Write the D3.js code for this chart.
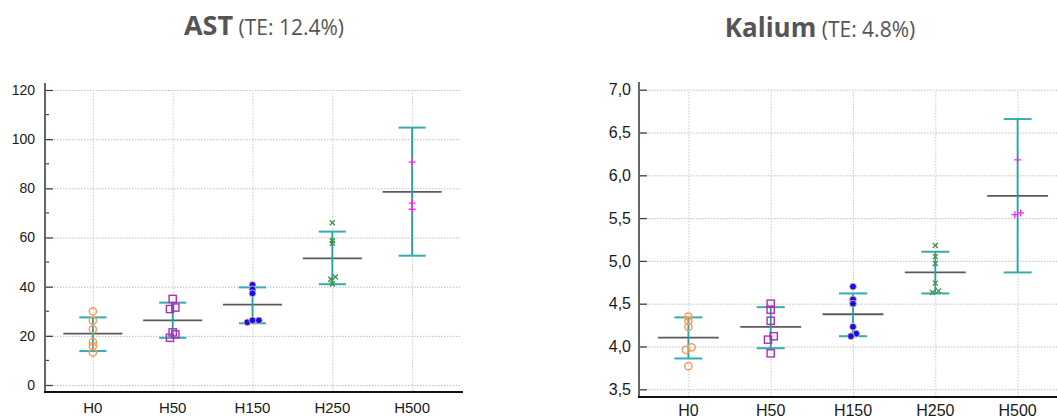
<!DOCTYPE html>
<html>
<head>
<meta charset="utf-8">
<script src="https://cdn.jsdelivr.net/npm/d3@7"></script>
<style>
  body { margin: 0; background: #fff; }
  svg { display: block; }
</style>
</head>
<body>
<div id="chart"></div>
<script>
// groups on the x axis
const groups = ["H0", "H50", "H150", "H250", "H500"];

// AST, individual results per group (U/L)
const astValues = [
  [30.0, 26.2, 22.6, 17.5, 15.8, 13.2],
  [35.0, 30.9, 31.5, 21.4, 20.6, 19.2],
  [40.7, 38.9, 37.3, 25.5, 26.3, 26.3],
  [66.0, 58.7, 57.6, 43.0, 43.9, 41.1],
  [90.7, 74.0, 71.5]
];
// small sideways jitter of the points, in group units
const astJitter = [
  [0, 0, 0, 0, 0, 0],
  [0, -0.034, 0.033, 0, 0.033, -0.034],
  [0, 0, 0, -0.065, 0, 0.08],
  [0, 0, 0, -0.02, 0.04, 0],
  [0, 0, 0]
];
const astMean = [20.9, 26.3, 32.7, 51.5, 78.6];
const astLow = [13.8, 19.2, 25.1, 41.0, 52.6];
const astHigh = [27.5, 33.5, 39.7, 62.4, 104.7];

// Kalium, individual results per group (mmol/L)
const kValues = [
  [4.35, 4.30, 4.23, 3.99, 3.96, 3.77],
  [4.50, 4.43, 4.30, 4.12, 4.08, 3.92],
  [4.70, 4.55, 4.50, 4.23, 4.15, 4.12],
  [5.18, 5.05, 4.97, 4.74, 4.65, 4.63],
  [6.18, 5.56, 5.54]
];
const kJitter = [
  [0, 0, 0, 0.04, -0.03, 0],
  [0, 0, 0, 0.037, -0.033, 0],
  [0, 0, 0, 0, 0.04, -0.025],
  [0, 0, 0, 0, 0.04, -0.033],
  [0, 0.036, -0.033]
];
const kMean = [4.104, 4.23, 4.377, 4.865, 5.76];
const kLow = [3.86, 3.98, 4.12, 4.62, 4.865];
const kHigh = [4.34, 4.46, 4.62, 5.107, 6.657];

const astTicks = [0, 20, 40, 60, 80, 100, 120];
const astMinor = [10, 30, 50, 70, 90, 110];
const kTicks = [3.5, 4.0, 4.5, 5.0, 5.5, 6.0, 6.5, 7.0];

const width = 1057, height = 418;

const svg = d3.select("#chart").append("svg")
  .attr("width", width)
  .attr("height", height)
  .attr("viewBox", [0, 0, width, height]);

const deLocale = d3.formatLocale({decimal: ",", thousands: ".", grouping: [3], currency: ["", " €"]});

drawPanel({
  name: "AST", te: "(TE: 12.4%)", titleX: 264, titleY: 35, nameSize: 27, teSize: 21,
  left: 45, right: 460, top: 83, bottom: 392,
  domain: [-2.85, 122.85], ticks: astTicks, minor: astMinor, fmt: d3.format("d"),
  ySize: 14, xSize: 15, labelPad: 10, xLabelY: 413,
  values: astValues, jitter: astJitter, mean: astMean, low: astLow, high: astHigh
});

drawPanel({
  name: "Kalium", te: "(TE: 4.8%)", titleX: 820, titleY: 37, nameSize: 26, teSize: 21,
  left: 639, right: 1067, top: 82, bottom: 397,
  domain: [3.41, 7.09], ticks: kTicks, minor: [], fmt: deLocale.format(".1f"),
  ySize: 16, xSize: 16, labelPad: 8, xLabelY: 416,
  values: kValues, jitter: kJitter, mean: kMean, low: kLow, high: kHigh
});

function drawPanel(p) {
  const g = svg.append("g");

  const x = d3.scalePoint()
    .domain(groups)
    .range([p.left, p.right])
    .padding(0.6);
  const step = x.step();

  const y = d3.scaleLinear()
    .domain(p.domain)
    .range([p.bottom, p.top]);

  // title
  const title = g.append("text")
    .attr("x", p.titleX)
    .attr("y", p.titleY)
    .attr("text-anchor", "middle")
    .attr("fill", "#555")
    .style("font-family", "'Open Sans', sans-serif");
  title.append("tspan")
    .attr("font-weight", "bold")
    .attr("font-size", p.nameSize)
    .text(p.name);
  title.append("tspan")
    .attr("font-size", p.teSize)
    .text(" " + p.te);

  // dotted grid
  g.append("g")
    .selectAll("line")
    .data(p.ticks)
    .join("line")
      .attr("x1", p.left)
      .attr("x2", Math.min(p.right, width))
      .attr("y1", d => y(d) + 0.5)
      .attr("y2", d => y(d) + 0.5)
      .attr("stroke", "#bdbdbd")
      .attr("stroke-dasharray", "1.5,1.5");

  g.append("g")
    .selectAll("line")
    .data(groups)
    .join("line")
      .attr("x1", d => x(d) + 0.5)
      .attr("x2", d => x(d) + 0.5)
      .attr("y1", p.top + 10)
      .attr("y2", p.bottom)
      .attr("stroke", "#c8c8c8")
      .attr("stroke-dasharray", "1.5,1.5");

  // y axis, ticks pointing into the plot
  const yAxis = d3.axisLeft(y)
    .tickValues(p.ticks)
    .tickFormat(p.fmt)
    .tickSize(-8)
    .tickPadding(p.labelPad);

  g.append("g")
    .attr("transform", `translate(${p.left},0)`)
    .call(yAxis)
    .call(a => a.select(".domain").remove())
    .call(a => a.selectAll(".tick line").attr("stroke", "#444").attr("stroke-width", 1.3))
    .call(a => a.selectAll(".tick text")
      .attr("fill", "#1a1a1a")
      .style("font", `${p.ySize}px 'Liberation Sans', Arial, sans-serif`));

  g.append("g")
    .selectAll("line")
    .data(p.minor)
    .join("line")
      .attr("x1", p.left)
      .attr("x2", p.left + 4)
      .attr("y1", d => y(d))
      .attr("y2", d => y(d))
      .attr("stroke", "#444")
      .attr("stroke-width", 1.2);

  g.append("line")
    .attr("x1", p.left)
    .attr("x2", p.left)
    .attr("y1", p.top)
    .attr("y2", p.bottom)
    .attr("stroke", "#666")
    .attr("stroke-width", 2);

  // x axis
  g.append("line")
    .attr("x1", p.left - 1)
    .attr("x2", Math.min(p.right + 3, width))
    .attr("y1", p.bottom)
    .attr("y2", p.bottom)
    .attr("stroke", "#111")
    .attr("stroke-width", 2);

  g.append("g")
    .selectAll("text")
    .data(groups)
    .join("text")
      .attr("x", d => x(d))
      .attr("y", p.xLabelY)
      .attr("text-anchor", "middle")
      .attr("fill", "#1a1a1a")
      .style("font", `${p.xSize}px 'Liberation Sans', Arial, sans-serif`)
      .text(d => d);

  // mean lines
  g.append("g")
    .selectAll("line")
    .data(groups)
    .join("line")
      .attr("x1", d => x(d) - 0.37 * step)
      .attr("x2", d => x(d) + 0.37 * step)
      .attr("y1", (d, i) => y(p.mean[i]))
      .attr("y2", (d, i) => y(p.mean[i]))
      .attr("stroke", "#5a5a5a")
      .attr("stroke-width", 1.8);

  // error bars
  const err = g.append("g")
    .selectAll("g")
    .data(groups)
    .join("g");
  err.append("line")
    .attr("x1", d => x(d))
    .attr("x2", d => x(d))
    .attr("y1", (d, i) => y(p.low[i]))
    .attr("y2", (d, i) => y(p.high[i]))
    .attr("stroke", "#1fa3a3")
    .attr("stroke-width", 1.8);
  err.selectAll(".cap")
    .data((d, i) => [[d, p.low[i]], [d, p.high[i]]])
    .join("line")
      .attr("class", "cap")
      .attr("x1", d => x(d[0]) - 0.17 * step)
      .attr("x2", d => x(d[0]) + 0.17 * step)
      .attr("y1", d => y(d[1]))
      .attr("y2", d => y(d[1]))
      .attr("stroke", "#35adad")
      .attr("stroke-width", 2);

  // points
  const pts = groups.flatMap((grp, i) =>
    p.values[i].map((v, k) => ({grp, i, v, cx: x(grp) + p.jitter[i][k] * step, cy: y(p.values[i][k])})));

  const layer = g.append("g");

  layer.selectAll("circle.h0")
    .data(pts.filter(d => d.i === 0))
    .join("circle")
      .attr("class", "h0")
      .attr("cx", d => d.cx)
      .attr("cy", d => d.cy)
      .attr("r", 3.6)
      .attr("fill", "none")
      .attr("stroke", "#fb9a5a")
      .attr("stroke-width", 1.5);

  layer.selectAll("rect.h50")
    .data(pts.filter(d => d.i === 1))
    .join("rect")
      .attr("class", "h50")
      .attr("x", d => d.cx - 3.6)
      .attr("y", d => d.cy - 3.6)
      .attr("width", 7.2)
      .attr("height", 7.2)
      .attr("fill", "none")
      .attr("stroke", "#ad2fb8")
      .attr("stroke-width", 1.4);

  layer.selectAll("circle.h150")
    .data(pts.filter(d => d.i === 2))
    .join("circle")
      .attr("class", "h150")
      .attr("cx", d => d.cx)
      .attr("cy", d => d.cy)
      .attr("r", 3.4)
      .attr("fill", "#1010f0")
      .attr("stroke", "#f6b58a")
      .attr("stroke-width", 0.9);

  layer.selectAll("path.h250")
    .data(pts.filter(d => d.i === 3))
    .join("path")
      .attr("class", "h250")
      .attr("d", d => `M${d.cx - 2.5},${d.cy - 2.5}L${d.cx + 2.5},${d.cy + 2.5}M${d.cx - 2.5},${d.cy + 2.5}L${d.cx + 2.5},${d.cy - 2.5}`)
      .attr("stroke", "#3e8f47")
      .attr("stroke-width", 1.3)
      .attr("fill", "none");

  layer.selectAll("path.h500")
    .data(pts.filter(d => d.i === 4))
    .join("path")
      .attr("class", "h500")
      .attr("d", d => `M${d.cx - 3.5},${d.cy}L${d.cx + 3.5},${d.cy}M${d.cx},${d.cy - 3.5}L${d.cx},${d.cy + 3.5}`)
      .attr("stroke", "#ff20ff")
      .attr("stroke-width", 1.3)
      .attr("fill", "none");
}
</script>
</body>
</html>
